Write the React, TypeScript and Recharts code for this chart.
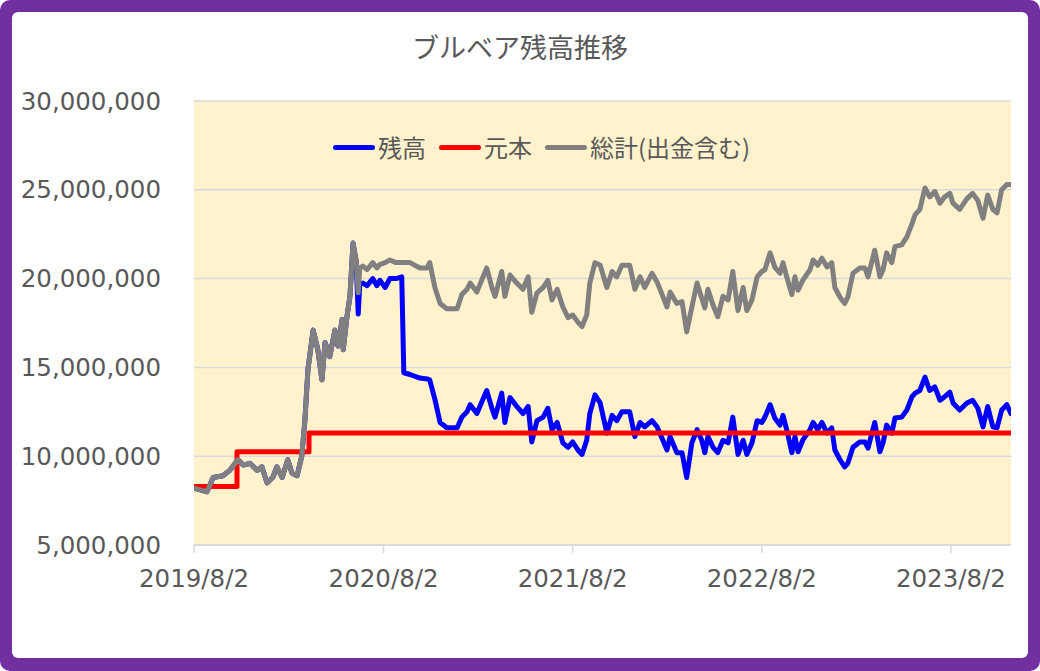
import React from "react";
import { LineChart, Line, XAxis, YAxis, CartesianGrid } from "recharts";

// days since 2019/8/2
const days = [
  0, 12, 25, 37, 56, 69, 85, 95, 108, 122,
  131, 141, 152, 160, 170, 181, 189, 199, 208, 214,
  220, 230, 239, 247, 253, 262, 272, 278, 286, 288,
  295, 301, 307, 313, 317, 320, 326, 334, 345, 353,
  359, 369, 378, 390, 401, 405, 417, 436, 450, 455,
  465, 475, 488, 508, 517, 527, 533, 546, 565, 575,
  581, 594, 600, 610, 623, 635, 645, 652, 662, 674,
  683, 691, 701, 712, 722, 731, 741, 749, 758, 764,
  774, 784, 797, 807, 816, 826, 841, 851, 861, 870,
  884, 894, 905, 913, 919, 932, 942, 951, 961, 971,
  980, 986, 992, 1002, 1011, 1021, 1031, 1040, 1050, 1060,
  1067, 1077, 1087, 1096, 1102, 1112, 1121, 1131, 1137, 1144,
  1154, 1160, 1166, 1175, 1189, 1195, 1204, 1212, 1222, 1231,
  1237, 1247, 1256, 1262, 1272, 1285, 1295, 1301, 1314, 1324,
  1330, 1337, 1347, 1353, 1366, 1376, 1386, 1392, 1401, 1411,
  1420, 1430, 1440, 1449, 1459, 1465, 1478, 1492, 1503, 1513,
  1523, 1532, 1542, 1550, 1559, 1569, 1577,
];

// 総計(出金含む), millions of yen
const totalM = [
  8.2, 8.1, 8.0, 8.8, 8.9, 9.2, 9.8, 9.5, 9.6, 9.2,
  9.4, 8.5, 8.8, 9.4, 8.8, 9.8, 9.05, 8.9, 10.0, 12.0,
  14.9, 17.1, 16.0, 14.3, 16.4, 15.6, 17.1, 16.2, 17.7, 16.0,
  17.8, 19.0, 22.0, 21.0, 19.2, 20.6, 20.7, 20.5, 20.9, 20.6,
  20.8, 20.9, 21.05, 20.9, 20.9, 20.9, 20.9, 20.6, 20.6, 20.9,
  19.5, 18.6, 18.3, 18.3, 19.1, 19.4, 19.75, 19.25, 20.6, 19.5,
  19.0, 20.4, 19.0, 20.2, 19.75, 19.4, 20.1, 18.1, 19.2, 19.5,
  19.9, 18.8, 19.4, 18.4, 17.8, 17.95, 17.55, 17.3, 17.95, 19.75,
  20.9, 20.75, 19.5, 20.4, 20.1, 20.75, 20.75, 19.4, 20.1, 19.5,
  20.3, 19.8, 19.0, 18.4, 19.25, 18.6, 18.7, 17.0, 18.4, 19.75,
  18.9, 18.35, 19.4, 18.5, 17.85, 19.0, 18.8, 20.4, 18.2, 19.5,
  18.2, 18.8, 20.1, 20.4, 20.5, 21.45, 20.65, 20.3, 20.9, 20.1,
  19.1, 20.1, 19.35, 19.9, 20.5, 21.05, 20.75, 21.15, 20.65, 20.9,
  19.5, 18.95, 18.6, 18.95, 20.3, 20.6, 20.6, 20.1, 21.6, 20.1,
  20.5, 21.45, 20.9, 21.8, 21.9, 22.35, 23.1, 23.6, 23.9, 25.1,
  24.6, 24.9, 24.25, 24.6, 24.8, 24.25, 23.9, 24.5, 24.8, 24.4,
  23.4, 24.7, 23.9, 23.7, 25.0, 25.3, 25.3,
];

// 残高, millions of yen
const balanceM = [
  8.2, 8.1, 8.0, 8.8, 8.9, 9.2, 9.8, 9.5, 9.6, 9.2,
  9.4, 8.5, 8.8, 9.4, 8.8, 9.8, 9.05, 8.9, 10.0, 12.0,
  14.9, 17.1, 16.0, 14.3, 16.4, 15.6, 17.1, 16.2, 17.7, 16.0,
  17.8, 19.0, 22.0, 21.0, 18.0, 19.7, 19.75, 19.6, 20.0, 19.6,
  19.9, 19.5, 20.0, 20.0, 20.1, 14.7, 14.6, 14.4, 14.35, 14.3,
  13.2, 11.9, 11.6, 11.6, 12.2, 12.5, 12.9, 12.4, 13.7, 12.7,
  12.2, 13.55, 11.9, 13.3, 12.8, 12.4, 12.8, 10.8, 12.0, 12.2,
  12.7, 11.5, 11.9, 10.75, 10.5, 10.8, 10.35, 10.1, 10.9, 12.4,
  13.45, 13.0, 11.3, 12.3, 12.0, 12.5, 12.5, 11.1, 11.9, 11.65,
  12.0, 11.65, 10.9, 10.35, 11.1, 10.2, 10.2, 8.8, 10.75, 11.5,
  10.9, 10.2, 11.1, 10.5, 10.2, 10.9, 10.75, 12.2, 10.1, 10.9,
  10.1, 10.75, 12.0, 11.9, 12.2, 12.9, 12.15, 11.75, 12.3, 11.5,
  10.2, 11.1, 10.25, 10.9, 11.5, 11.9, 11.5, 11.9, 11.3, 11.6,
  10.35, 9.8, 9.4, 9.6, 10.5, 10.8, 10.8, 10.45, 11.9, 10.25,
  10.75, 11.75, 11.3, 12.15, 12.2, 12.6, 13.35, 13.55, 13.7, 14.45,
  13.7, 13.9, 13.15, 13.35, 13.6, 13.0, 12.6, 13.0, 13.15, 12.7,
  11.65, 12.8, 11.65, 11.6, 12.6, 12.9, 12.4,
];

// 元本 steps
const principalDays = [0, 83, 222, 1577];
const principalM = [8.3, 10.25, 11.3, 11.3];

const xTickDays = [0, 366, 731, 1096, 1461];
const xTickLabels = ["2019/8/2", "2020/8/2", "2021/8/2", "2022/8/2", "2023/8/2"];
const yTicks = [5000000, 10000000, 15000000, 20000000, 25000000, 30000000];

const seriesNames = ["残高", "元本", "総計(出金含む)"];
const seriesColors = ["#0000FF", "#FF0000", "#808080"];

const rows = days.map((d, i) => ({
  t: d,
  balance: balanceM[i] * 1e6,
  total: totalM[i] * 1e6,
}));
const principalRows = principalDays.map((d, i) => ({ t: d, principal: principalM[i] * 1e6 }));

const fmt = (v: number) => String(Math.round(v)).replace(/\B(?=(\d{3})+(?!\d))/g, ",");

const TEXT = "#595959";
const NUM_FONT = "'DejaVu Sans', 'Noto Sans CJK JP', sans-serif";
const JP_FONT = "'Noto Sans CJK JP', 'DejaVu Sans', sans-serif";
const LW = 5;

export default function App() {
  return (
    <div
      style={{
        position: "absolute",
        left: 0,
        top: 0,
        width: 1040,
        height: 671,
        background: "#7030A0",
        borderRadius: 10,
        overflow: "hidden",
      }}
    >
      <div
        style={{
          position: "absolute",
          left: 12,
          top: 12,
          width: 1016,
          height: 646,
          background: "#FFFFFF",
          borderRadius: 6,
        }}
      />
      <div style={{ position: "absolute", left: 0, top: 0 }}>
        <LineChart
          width={1040}
          height={671}
          data={rows}
          margin={{ top: 101, right: 29, bottom: 76, left: 0 }}
        >
          <CartesianGrid vertical={false} stroke="#D9D9D9" strokeWidth={1.5} fill="#FFF2CC" />
          <XAxis
            dataKey="t"
            type="number"
            domain={[0, 1577]}
            ticks={xTickDays}
            tickFormatter={(v: number) => xTickLabels[xTickDays.indexOf(v)]}
            allowDataOverflow
            height={50}
            axisLine={{ stroke: "#D9D9D9", strokeWidth: 1.5 }}
            tickLine={{ stroke: "#D9D9D9", strokeWidth: 1.5 }}
            tickSize={8}
            tickMargin={17}
            tick={{ fill: TEXT, fontSize: 24.5, fontFamily: NUM_FONT }}
          />
          <YAxis
            type="number"
            domain={[5000000, 30000000]}
            ticks={yTicks}
            allowDataOverflow
            width={194}
            axisLine={false}
            tickLine={false}
            tickSize={0}
            tickMargin={33}
            tickFormatter={fmt}
            tick={{ fill: TEXT, fontSize: 24.5, fontFamily: NUM_FONT }}
          />
          <Line
            dataKey="balance"
            type="linear"
            stroke={seriesColors[0]}
            strokeWidth={LW}
            strokeLinejoin="round"
            strokeLinecap="round"
            dot={false}
            activeDot={false}
            isAnimationActive={false}
          />
          <Line
            data={principalRows}
            dataKey="principal"
            type="stepAfter"
            stroke={seriesColors[1]}
            strokeWidth={LW}
            strokeLinejoin="round"
            strokeLinecap="round"
            dot={false}
            activeDot={false}
            isAnimationActive={false}
          />
          <Line
            dataKey="total"
            type="linear"
            stroke={seriesColors[2]}
            strokeWidth={LW}
            strokeLinejoin="round"
            strokeLinecap="round"
            dot={false}
            activeDot={false}
            isAnimationActive={false}
          />
        </LineChart>
      </div>
      <div
        style={{
          position: "absolute",
          left: 0,
          top: 32,
          width: 1040,
          textAlign: "center",
          fontFamily: JP_FONT,
          fontSize: 27,
          lineHeight: "30px",
          color: TEXT,
        }}
      >
        ブルベア残高推移
      </div>
      <div
        style={{
          position: "absolute",
          left: 333,
          top: 133,
          height: 28,
          display: "flex",
          alignItems: "center",
          fontFamily: JP_FONT,
          fontSize: 24,
          lineHeight: "28px",
          color: TEXT,
          whiteSpace: "nowrap",
        }}
      >
        {seriesNames.map((n, i) => (
          <div key={n} style={{ display: "flex", alignItems: "center", marginRight: 13 }}>
            <span
              style={{
                display: "inline-block",
                width: 42,
                height: 5,
                borderRadius: 3,
                background: seriesColors[i],
                marginRight: 3,
              }}
            />
            <span>{n}</span>
          </div>
        ))}
      </div>
    </div>
  );
}
